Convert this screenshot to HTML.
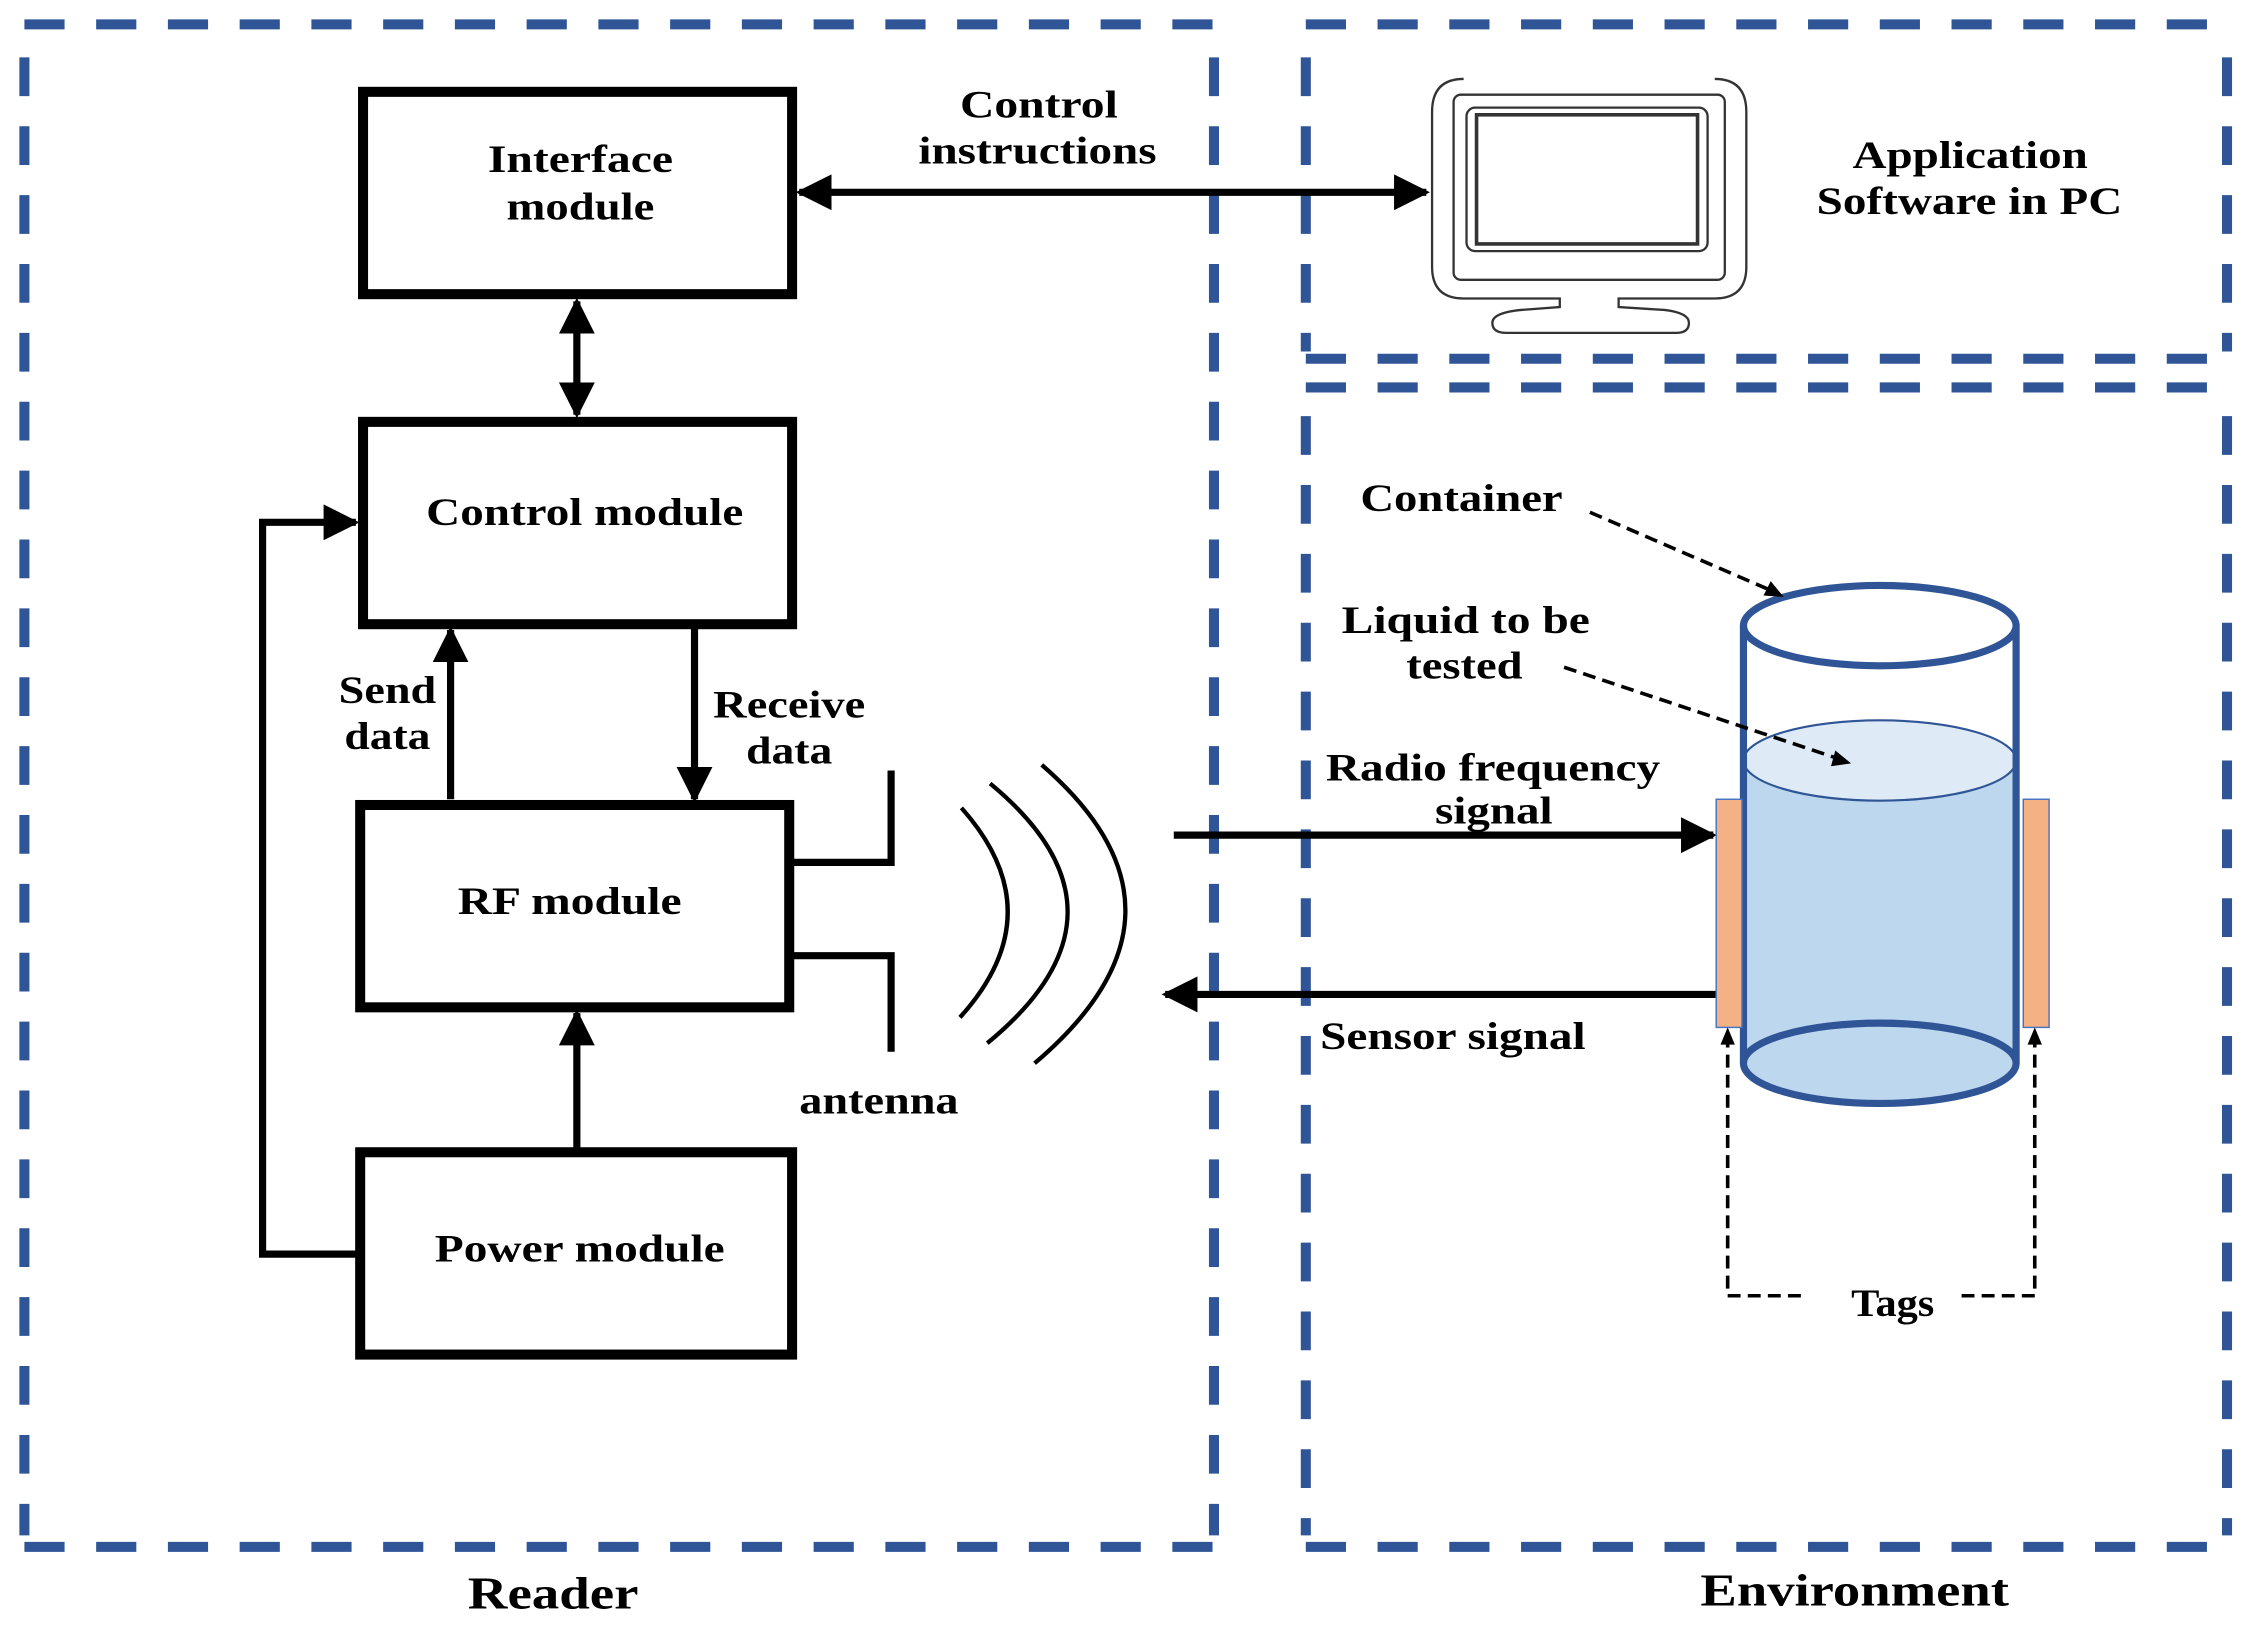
<!DOCTYPE html>
<html><head><meta charset="utf-8"><style>
html,body{margin:0;padding:0;background:#fff;}
svg{display:block;}
text{font-family:"Liberation Serif",serif;font-weight:bold;fill:#000;}
</style></head><body>
<svg width="2250" height="1642" viewBox="0 0 1568 1144.3" xmlns="http://www.w3.org/2000/svg">
<defs>
<marker id="ah" viewBox="0 0 10 10" refX="9" refY="5" markerWidth="4.2" markerHeight="4.2" orient="auto-start-reverse" markerUnits="strokeWidth"><path d="M0,0 L10,5 L0,10 z" fill="#000"/></marker>
<marker id="ahs" viewBox="0 0 10 10" refX="9" refY="5" markerWidth="5" markerHeight="5" orient="auto-start-reverse" markerUnits="strokeWidth"><path d="M0,0 L10,5 L0,10 z" fill="#000"/></marker>
</defs>
<g fill="none" stroke="#2f5597" stroke-width="7">
<line x1="17" y1="17" x2="846" y2="17" stroke-dasharray="28 22"/>
<line x1="17" y1="1078" x2="846" y2="1078" stroke-dasharray="28 22"/>
<line x1="17" y1="40" x2="17" y2="1070" stroke-dasharray="27 21"/>
<line x1="846" y1="40" x2="846" y2="1070" stroke-dasharray="27 21"/>
<line x1="910" y1="17" x2="1552" y2="17" stroke-dasharray="28 22"/>
<line x1="910" y1="250" x2="1552" y2="250" stroke-dasharray="28 22"/>
<line x1="910" y1="40" x2="910" y2="245" stroke-dasharray="27 21"/>
<line x1="1552" y1="40" x2="1552" y2="245" stroke-dasharray="27 21"/>
<line x1="910" y1="270" x2="1552" y2="270" stroke-dasharray="28 22"/>
<line x1="910" y1="1078" x2="1552" y2="1078" stroke-dasharray="28 22"/>
<line x1="910" y1="290" x2="910" y2="1070" stroke-dasharray="27 21"/>
<line x1="1552" y1="290" x2="1552" y2="1070" stroke-dasharray="27 21"/>
</g>
<g fill="none" stroke="#000" stroke-width="7">
<rect x="253" y="64" width="299" height="141"/>
<rect x="253" y="294" width="299" height="141"/>
<rect x="251" y="561" width="299" height="141"/>
<rect x="251" y="803" width="301" height="141"/>
</g>
<g stroke="#000" stroke-width="5" fill="none">
<line x1="402" y1="210" x2="402" y2="289" marker-start="url(#ahs)" marker-end="url(#ahs)"/>
<line x1="557" y1="134" x2="994" y2="134" marker-start="url(#ahs)" marker-end="url(#ahs)"/>
<line x1="314" y1="557" x2="314" y2="439" marker-end="url(#ahs)"/>
<line x1="484" y1="438" x2="484" y2="557" marker-end="url(#ahs)"/>
<line x1="402" y1="800" x2="402" y2="706" marker-end="url(#ahs)"/>
<polyline points="250,874 183,874 183,364 248,364" marker-end="url(#ahs)"/>
<polyline points="552,601 621,601 621,537"/>
<polyline points="552,666 621,666 621,733"/>
<line x1="818" y1="582" x2="1194" y2="582" marker-end="url(#ahs)"/>
<line x1="1196" y1="693" x2="812" y2="693" marker-end="url(#ahs)"/>
</g>
<g stroke="#000" stroke-width="3" fill="none">
<path d="M670,563 Q735,636 669,709"/>
<path d="M690,546 Q799,636 688,727"/>
<path d="M726,533 Q845,636 721,741"/>
</g>
<!-- monitor -->
<g fill="none" stroke="#333" stroke-width="1.6">
<path d="M1020,55 Q998,55 998,78 L998,186 Q998,208 1020,208 L1087,208 L1087,214 L1060,216 Q1040,218 1040,225 Q1040,232 1050,232 L1168,232 Q1177,232 1177,225 Q1177,218 1160,216 L1128,214 L1128,208 L1195,208 Q1217,208 1217,186 L1217,78 Q1217,55 1195,55"/>
<rect x="1013" y="66" width="189" height="129" rx="5"/>
<rect x="1022" y="75" width="168" height="100" rx="6"/>
<rect x="1029" y="80" width="154" height="90" stroke-width="2.5"/>
</g>
<!-- cylinder -->
<path d="M1215,530 L1215,741 A95,28 0 0 0 1405,741 L1405,530 Z" fill="#bdd7ee"/>
<ellipse cx="1310" cy="530" rx="95" ry="28" fill="#deebf7" stroke="#2f5597" stroke-width="1.5"/>
<ellipse cx="1310" cy="741" rx="95" ry="28" fill="#bdd7ee" stroke="#2f5597" stroke-width="5"/>
<g fill="none" stroke="#2f5597" stroke-width="5">
<ellipse cx="1310" cy="436" rx="95" ry="28" fill="#fff"/>
<line x1="1215" y1="436" x2="1215" y2="741"/>
<line x1="1405" y1="436" x2="1405" y2="741"/>
</g>
<rect x="1196" y="557" width="18" height="159" fill="#f4b183" stroke="#4472c4" stroke-width="1"/>
<rect x="1410" y="557" width="18" height="159" fill="#f4b183" stroke="#4472c4" stroke-width="1"/>
<g fill="none" stroke="#000" stroke-width="2.5" stroke-dasharray="9 5">
<polyline points="1255,903 1204,903 1204,722"/>
<polyline points="1367,903 1418,903 1418,722"/>
<line x1="1108" y1="357" x2="1240" y2="414"/>
<line x1="1090" y1="465" x2="1285" y2="530"/>
</g>
<g fill="#000">
<path d="M1204,716 L1199,728 L1209,728 Z"/>
<path d="M1418,716 L1413,728 L1423,728 Z"/>
<path d="M1243,416 L1229,415 L1234,405 Z"/>
<path d="M1290,532 L1276,534 L1279,523 Z"/>
</g>
<g font-size="27">
<text x="340" y="120" textLength="129" lengthAdjust="spacingAndGlyphs">Interface</text>
<text x="353" y="153" textLength="103" lengthAdjust="spacingAndGlyphs">module</text>
<text x="297" y="366" textLength="221" lengthAdjust="spacingAndGlyphs">Control module</text>
<text x="319" y="637" textLength="156" lengthAdjust="spacingAndGlyphs">RF module</text>
<text x="303" y="879" textLength="202" lengthAdjust="spacingAndGlyphs">Power module</text>
<text x="236" y="490" textLength="68" lengthAdjust="spacingAndGlyphs">Send</text>
<text x="240" y="522" textLength="60" lengthAdjust="spacingAndGlyphs">data</text>
<text x="497" y="500" textLength="106" lengthAdjust="spacingAndGlyphs">Receive</text>
<text x="520" y="532" textLength="60" lengthAdjust="spacingAndGlyphs">data</text>
<text x="557" y="776" textLength="111" lengthAdjust="spacingAndGlyphs">antenna</text>
<text x="669" y="82" textLength="110" lengthAdjust="spacingAndGlyphs">Control</text>
<text x="640" y="114" textLength="166" lengthAdjust="spacingAndGlyphs">instructions</text>
<text x="1291" y="117" textLength="164" lengthAdjust="spacingAndGlyphs">Application</text>
<text x="1266" y="149" textLength="213" lengthAdjust="spacingAndGlyphs">Software in PC</text>
<text x="948" y="356" textLength="141" lengthAdjust="spacingAndGlyphs">Container</text>
<text x="935" y="441" textLength="173" lengthAdjust="spacingAndGlyphs">Liquid to be</text>
<text x="980" y="473" textLength="81" lengthAdjust="spacingAndGlyphs">tested</text>
<text x="924" y="544" textLength="233" lengthAdjust="spacingAndGlyphs">Radio frequency</text>
<text x="1000" y="574" textLength="82" lengthAdjust="spacingAndGlyphs">signal</text>
<text x="920" y="731" textLength="185" lengthAdjust="spacingAndGlyphs">Sensor signal</text>
<text x="1290" y="917" textLength="58" lengthAdjust="spacingAndGlyphs">Tags</text>
</g>
<g font-size="32">
<text x="326" y="1121" textLength="119" lengthAdjust="spacingAndGlyphs">Reader</text>
<text x="1185" y="1119" textLength="215" lengthAdjust="spacingAndGlyphs">Environment</text>
</g>
</svg>
</body></html>
